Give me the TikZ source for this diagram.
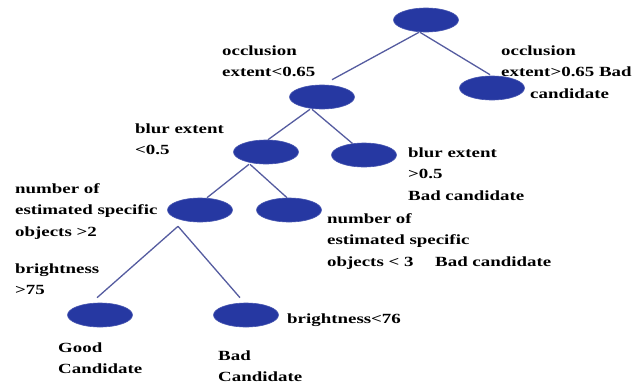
\documentclass[tikz,border=0pt]{standalone}
\usepackage{fontspec}
\newfontfamily\lab[FakeStretch=1.35]{Liberation Serif}
\usetikzlibrary{shapes.geometric}
\definecolor{nodeblue}{RGB}{38,56,162}
\definecolor{edgeblue}{RGB}{85,92,160}
\begin{document}
\begin{tikzpicture}[x=1pt,y=-1pt,
  leaf/.style={ellipse, fill=nodeblue, draw=nodeblue!85!white, line width=0.6pt, minimum width=65pt, minimum height=24pt, inner sep=0pt},
  lbl/.style={anchor=north west, inner sep=0pt, align=left, font=\lab\bfseries\fontsize{14}{21.5}\selectfont},
  edge/.style={draw=edgeblue, line width=1.3pt}]
\useasboundingbox[fill=white] (0,0) rectangle (642,386);
\node[leaf] (root) at (426,20) {};
\node[leaf] (n1) at (322,97) {};
\node[leaf] (r1) at (492,88) {};
\node[leaf] (n2) at (266,152) {};
\node[leaf] (r2) at (364,155) {};
\node[leaf] (n3) at (200,210) {};
\node[leaf] (r3) at (289,210) {};
\node[leaf] (l1) at (100,315) {};
\node[leaf] (l2) at (246,315) {};
\coordinate (fork) at ([xshift=-22pt,yshift=-4pt]n3.south);
\draw[edge] ([xshift=-7pt]root.south) -- ([xshift=10pt,yshift=5pt]n1.north);
\draw[edge] ([xshift=-6pt]root.south) -- ([xshift=-2pt,yshift=1pt]r1.north);
\draw[edge] ([xshift=-12pt]n1.south) -- ([xshift=2pt]n2.north);
\draw[edge] ([xshift=-10pt]n1.south) -- (r2.135);
\draw[edge] ([xshift=-17pt]n2.south) -- ([xshift=7pt]n3.north);
\draw[edge] ([xshift=-16pt]n2.south) -- ([xshift=-2pt]r3.north);
\draw[edge] (fork) -- ([xshift=-3pt,yshift=5pt]l1.north);
\draw[edge] (fork) -- ([xshift=-6pt,yshift=5pt]l2.north);
\node[lbl] (t1) at (222,40) {\strut occlusion\\extent<0.65};
\node[lbl] (t2) at (501,40) {\strut occlusion\\extent>0.65 Bad\\\hspace*{29pt}candidate};
\node[lbl] (t3) at (135,118) {\strut blur extent\\<0.5};
\node[lbl] (t4) at (15,178) {\strut number of\\estimated specific\\objects >2};
\node[lbl] (t5) at (15,258) {\strut brightness\\>75};
\node[lbl] (t6) at (58,337) {\strut Good\\Candidate};
\node[lbl] (t7) at (218,345) {\strut Bad\\Candidate};
\node[lbl] (t8) at (287,308) {\strut brightness<76};
\node[lbl] (t9) at (408,142) {\strut blur extent\\>0.5\\Bad candidate};
\node[lbl] (t10) at (327,208) {\strut number of\\estimated specific\\objects < 3};
\node[lbl] (t11) at (435,251) {\strut Bad candidate};
\end{tikzpicture}
\end{document}
